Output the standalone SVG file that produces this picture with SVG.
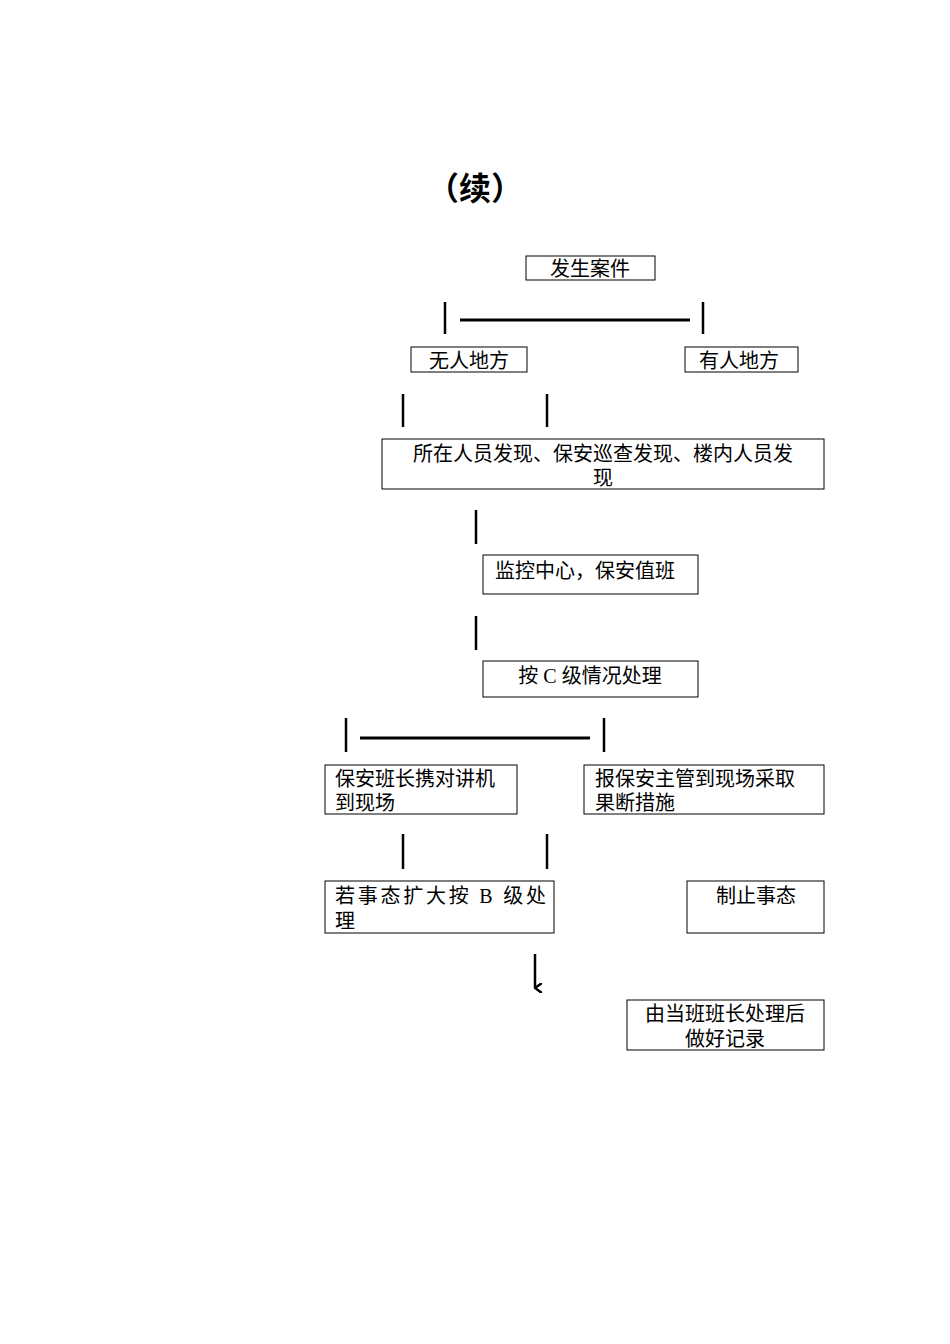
<svg xmlns="http://www.w3.org/2000/svg" width="950" height="1344" viewBox="0 0 950 1344">
<style>
.b{fill:none;stroke:#000;stroke-width:1}
.t{font-family:"Liberation Serif","Noto Sans CJK SC",serif;font-size:20px;fill:#000}
.c{stroke:#000;stroke-width:2.5;fill:none}
.h{stroke:#000;stroke-width:3}
</style>
<defs>
<marker id="a" markerWidth="10" markerHeight="8" refX="5" refY="7" orient="auto" markerUnits="userSpaceOnUse" viewBox="0 0 10 8"><path d="M0,0 L5,7 L10,0" fill="none" stroke="#000" stroke-width="2.5"/></marker>
</defs>
<rect width="950" height="1344" fill="#fff"/>
<text x="475" y="200" text-anchor="middle" font-family="'Noto Sans CJK SC',sans-serif" font-size="32" font-weight="bold">（续）</text>
<g id="connectors">
<path class="c" d="M445,302V334M703,302V334M403,394V427M547,394V427M476,510V544M476,616V650M346,718V752M604,718V752M403,834V869M547,834V869M535,954V988" marker-end="url(#a)"/>
<path class="h" d="M460,320H690M360,738H590"/>
</g>
<g id="n1"><rect class="b" x="526" y="256" width="129" height="24"/><text class="t" x="590" y="276" text-anchor="middle">发生案件</text></g>
<g id="n2"><rect class="b" x="411" y="347" width="116" height="25"/><text class="t" x="469" y="368" text-anchor="middle">无人地方</text></g>
<g id="n3"><rect class="b" x="685" y="347" width="113" height="25"/><text class="t" x="739" y="368" text-anchor="middle">有人地方</text></g>
<g id="n4"><rect class="b" x="382" y="439" width="442" height="50"/><text class="t" x="603" y="461" text-anchor="middle">所在人员发现、保安巡查发现、楼内人员发</text><text class="t" x="603" y="485" text-anchor="middle">现</text></g>
<g id="n5"><rect class="b" x="483" y="555" width="215" height="39"/><text class="t" x="495" y="578">监控中心，保安值班</text></g>
<g id="n6"><rect class="b" x="483" y="661" width="215" height="36"/><text class="t" x="590" y="683" text-anchor="middle">按 C 级情况处理</text></g>
<g id="n7"><rect class="b" x="325" y="765" width="192" height="49"/><text class="t" x="335" y="786">保安班长携对讲机</text><text class="t" x="335" y="810">到现场</text></g>
<g id="n8"><rect class="b" x="584" y="765" width="240" height="49"/><text class="t" x="595" y="786">报保安主管到现场采取</text><text class="t" x="595" y="810">果断措施</text></g>
<g id="n9"><rect class="b" x="325" y="881" width="229" height="52"/><text class="t" x="335" y="903" textLength="211" lengthAdjust="spacing">若事态扩大按 B 级处</text><text class="t" x="335" y="928">理</text></g>
<g id="n10"><rect class="b" x="687" y="881" width="137" height="52"/><text class="t" x="716" y="903">制止事态</text></g>
<g id="n11"><rect class="b" x="627" y="1000" width="197" height="50"/><text class="t" x="725" y="1021" text-anchor="middle">由当班班长处理后</text><text class="t" x="725" y="1046" text-anchor="middle">做好记录</text></g>
</svg>
